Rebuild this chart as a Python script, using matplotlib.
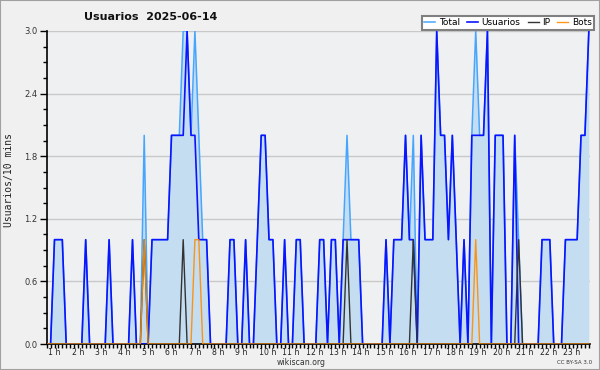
import matplotlib
matplotlib.use('Agg')
import matplotlib.pyplot as plt
import matplotlib.transforms as mtransforms
from matplotlib.patches import Rectangle
from matplotlib.ticker import MultipleLocator, FixedLocator
import numpy as np

# Data: users per 10-minute slot (140 slots shown)
usuarios = [0, 0, 1, 1, 1, 0, 0, 0, 0, 0,
            1, 0, 0, 0, 0, 0, 1, 0, 0, 0,
            0, 0, 1, 0, 0, 0, 0, 1, 1, 1,
            1, 1, 2, 2, 2, 2, 3, 2, 2, 1,
            1, 1, 0, 0, 0, 0, 0, 1, 1, 0,
            0, 1, 0, 0, 1, 2, 2, 1, 1, 0,
            0, 1, 0, 0, 1, 1, 0, 0, 0, 0,
            1, 1, 0, 1, 1, 0, 1, 1, 1, 1,
            1, 0, 0, 0, 0, 0, 0, 1, 0, 1,
            1, 1, 2, 1, 1, 0, 2, 1, 1, 1,
            3, 2, 2, 1, 2, 1, 0, 1, 0, 2,
            2, 2, 2, 3, 0, 2, 2, 2, 0, 0,
            2, 0, 0, 0, 0, 0, 0, 1, 1, 1,
            0, 0, 0, 1, 1, 1, 1, 2, 2, 3]
ip = [0, 0, 0, 0, 0, 0, 0, 0, 0, 0,
      0, 0, 0, 0, 0, 0, 0, 0, 0, 0,
      0, 0, 0, 0, 0, 1, 0, 0, 0, 0,
      0, 0, 0, 0, 0, 1, 0, 0, 0, 0,
      0, 0, 0, 0, 0, 0, 0, 0, 0, 0,
      0, 0, 0, 0, 0, 0, 0, 0, 0, 0,
      0, 0, 0, 0, 0, 0, 0, 0, 0, 0,
      0, 0, 0, 0, 0, 0, 0, 1, 0, 0,
      0, 0, 0, 0, 0, 0, 0, 0, 0, 0,
      0, 0, 0, 0, 1, 0, 0, 0, 0, 0,
      0, 0, 0, 0, 0, 0, 0, 0, 0, 0,
      0, 0, 0, 0, 0, 0, 0, 0, 0, 0,
      0, 1, 0, 0, 0, 0, 0, 0, 0, 0,
      0, 0, 0, 0, 0, 0, 0, 0, 0, 0]
bots = [0, 0, 0, 0, 0, 0, 0, 0, 0, 0,
        0, 0, 0, 0, 0, 0, 0, 0, 0, 0,
        0, 0, 0, 0, 0, 1, 0, 0, 0, 0,
        0, 0, 0, 0, 0, 0, 0, 0, 1, 1,
        0, 0, 0, 0, 0, 0, 0, 0, 0, 0,
        0, 0, 0, 0, 0, 0, 0, 0, 0, 0,
        0, 0, 0, 0, 0, 0, 0, 0, 0, 0,
        0, 0, 0, 0, 0, 0, 0, 0, 0, 0,
        0, 0, 0, 0, 0, 0, 0, 0, 0, 0,
        0, 0, 0, 0, 0, 0, 0, 0, 0, 0,
        0, 0, 0, 0, 0, 0, 0, 0, 0, 0,
        1, 0, 0, 0, 0, 0, 0, 0, 0, 0,
        0, 0, 0, 0, 0, 0, 0, 0, 0, 0,
        0, 0, 0, 0, 0, 0, 0, 0, 0, 0]
hour_labels = [f"{h} h" for h in range(1, 24)]
y_ticks = [0.0, 0.6, 1.2, 1.8, 2.4, 3.0]

total = [u + i + b for u, i, b in zip(usuarios, ip, bots)]
x = np.arange(len(usuarios))

W, H = 600, 370
fig = plt.figure(figsize=(6, 3.7), dpi=100, facecolor='#f0f0f0')
ax = fig.add_axes([46.7 / W, (H - 344) / H, (590 - 46.7) / W, (344 - 31) / H])
ax.set_facecolor('#eff0f2')

ax.set_xlim(0, 139.3)
ax.set_ylim(0, 3.0)

ax.yaxis.grid(True, color='#c8c8c8', linewidth=1.0)
ax.set_axisbelow(True)

ax.fill_between(x, total, 0, color='#c5ddf0', linewidth=0, zorder=2)
ax.plot(x, total, color='#46a6ff', linewidth=1.1, label='Total', zorder=3)
ax.plot(x, usuarios, color='#0a14ff', linewidth=1.2, label='Usuarios', zorder=4)
ax.plot(x, ip, color='#333333', linewidth=1.0, label='IP', zorder=5)
ax.plot(x, bots, color='#ff8c00', linewidth=1.0, label='Bots', zorder=6, alpha=0.9)

for s in ['top', 'right']:
    ax.spines[s].set_visible(False)
for s in ['left', 'bottom']:
    ax.spines[s].set_color('black')
    ax.spines[s].set_linewidth(1.2)

ax.set_yticks(y_ticks)
ax.set_yticklabels([f"{v:.1f}" for v in y_ticks])
ax.yaxis.set_minor_locator(MultipleLocator(0.15))
ax.tick_params(axis='y', which='major', length=5, width=1, pad=1.5,
               labelsize=6, labelcolor='#333333')
ax.tick_params(axis='y', which='minor', length=3, width=1)

hour_pos = [6 * i for i in range(len(hour_labels))]
ax.set_xticks(hour_pos)
ax.set_xticklabels(hour_labels)
ax.xaxis.set_minor_locator(FixedLocator(list(range(0, 140))))
ax.tick_params(axis='x', which='major', length=3, width=1, pad=0.2,
               labelsize=5.6, labelcolor='#222222')
ax.tick_params(axis='x', which='minor', length=3, width=1)
offset = mtransforms.ScaledTranslation(1.5 / 100, 0, fig.dpi_scale_trans)
for lbl in ax.get_xticklabels():
    lbl.set_ha('left')
    lbl.set_transform(lbl.get_transform() + offset)

fig.text(9 / W, 1 - 180 / H, 'Usuarios/10 mins', rotation=90, ha='center', va='center',
         fontsize=7, family='DejaVu Sans Mono', color='#222222')
fig.text(151 / W, 1 - 17 / H, 'Usuarios  2025-06-14', ha='center', va='center',
         fontsize=8, fontweight='bold', color='#111111')
fig.text(301 / W, 1 - 362.5 / H, 'wikiscan.org', ha='center', va='center',
         fontsize=5.6, color='#333333')
fig.text(592 / W, 1 - 363 / H, 'CC BY-SA 3.0', ha='right', va='center',
         fontsize=4, color='#333333')

leg = ax.legend(loc='upper right', bbox_to_anchor=(594 / W, 1 - 16 / H),
                bbox_transform=fig.transFigure, ncol=4, fontsize=6.5,
                frameon=True, fancybox=False, framealpha=1, facecolor='white',
                edgecolor='#808080', borderpad=0.25, handlelength=1.2,
                handletextpad=0.4, columnspacing=0.8, borderaxespad=0)
leg.get_frame().set_linewidth(1.5)
leg.set_zorder(10)

fig.patches.append(Rectangle((0, 0), 1, 1, transform=fig.transFigure, fill=False,
                             edgecolor='#a0a0a0', linewidth=1.5))

fig.savefig('out.png', dpi=100, facecolor=fig.get_facecolor())
